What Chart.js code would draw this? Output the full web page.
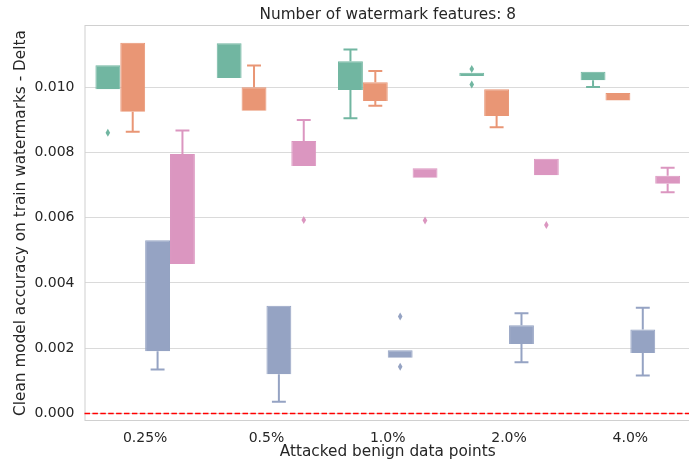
<!DOCTYPE html>
<html>
<head>
<meta charset="utf-8">
<script src="https://cdn.jsdelivr.net/npm/chart.js@4/dist/chart.umd.min.js"></script>
<style>
  html, body { margin: 0; padding: 0; background: #fff; overflow: hidden; }
  #wrap { width: 694px; height: 461px; }
</style>
</head>
<body>
<div id="wrap"><canvas id="boxChart" width="694" height="461"></canvas></div>
<script>
const categories = ["0.25%", "0.5%", "1.0%", "2.0%", "4.0%"];
const yTicks = [0, 0.002, 0.004, 0.006, 0.008, 0.010];
const chartTitle = "Number of watermark features: 8";

// boxes are [q1, q3], whiskers are [low, high]
const greenBox = [[0.00993, 0.01067], [0.01028, 0.01134], [0.00991, 0.01079], [0.01034, 0.01044], [0.01021, 0.01047]];
const greenWhisk = [[0.00993, 0.01067], [0.01028, 0.01134], [0.00904, 0.01115], [0.01034, 0.01044], [0.01000, 0.01047]];
const greenOut = [[0.0086], [], [], [0.01055, 0.01008], []];

const orangeBox = [[0.00924, 0.01136], [0.00927, 0.00999], [0.00957, 0.01015], [0.00911, 0.00993], [0.00959, 0.00982]];
const orangeWhisk = [[0.00863, 0.01136], [0.00927, 0.01066], [0.00943, 0.01049], [0.00877, 0.00993], [0.00959, 0.00982]];
const orangeOut = [[], [], [], [], []];

const blueBox = [[0.00191, 0.00531], [0.00120, 0.00330], [0.00171, 0.00194], [0.00213, 0.00270], [0.00185, 0.00257]];
const blueWhisk = [[0.00135, 0.00531], [0.00036, 0.00330], [0.00171, 0.00194], [0.00157, 0.00307], [0.00116, 0.00324]];
const blueOut = [[], [], [0.00297, 0.00143], [], []];

const pinkBox = [[0.00458, 0.00795], [0.00758, 0.00835], [0.00722, 0.00751], [0.00730, 0.00780], [0.00704, 0.00728]];
const pinkWhisk = [[0.00458, 0.00867], [0.00758, 0.00899], [0.00722, 0.00751], [0.00730, 0.00780], [0.00678, 0.00753]];
const pinkOut = [[], [0.00593], [0.00591], [0.00577], []];

const textColor = "#262626";
const gridColor = "#dadada";

function series(label, color, box, whisk, out) {
  return {
    label: label,
    data: box,
    whiskers: whisk,
    outliers: out,
    backgroundColor: color,
    borderColor: color,
    borderWidth: 1,
    categoryPercentage: 0.82,
    barPercentage: 1.0,
  };
}

// frame, whiskers, caps, outlier diamonds, zero line and the title over the plot area
const boxExtras = {
  id: "boxExtras",
  beforeDatasetsDraw(chart) {
    const { ctx, chartArea: a } = chart;
    ctx.save();
    ctx.strokeStyle = "#d0d0d0";
    ctx.lineWidth = 1;
    ctx.strokeRect(a.left + 0.5, a.top + 0.5, a.right - a.left - 1, a.bottom - a.top - 1);
    ctx.restore();
  },
  afterDatasetsDraw(chart) {
    const ctx = chart.ctx;
    const y = chart.scales.y;
    ctx.save();
    chart.data.datasets.forEach((ds, i) => {
      const meta = chart.getDatasetMeta(i);
      ctx.strokeStyle = ds.borderColor;
      ctx.fillStyle = ds.borderColor;
      ctx.lineWidth = 2;
      meta.data.forEach((bar, j) => {
        const [q1, q3] = ds.data[j];
        const [lo, hi] = ds.whiskers[j];
        const cx = bar.x;
        const half = bar.width * 0.28;
        [[q1, lo], [q3, hi]].forEach(([from, to]) => {
          if (to === from) return;
          ctx.beginPath();
          ctx.moveTo(cx, y.getPixelForValue(from));
          ctx.lineTo(cx, y.getPixelForValue(to));
          ctx.moveTo(cx - half, y.getPixelForValue(to));
          ctx.lineTo(cx + half, y.getPixelForValue(to));
          ctx.stroke();
        });
        ds.outliers[j].forEach(v => {
          const py = y.getPixelForValue(v);
          ctx.beginPath();
          ctx.moveTo(cx, py - 4);
          ctx.lineTo(cx + 2.3, py);
          ctx.lineTo(cx, py + 4);
          ctx.lineTo(cx - 2.3, py);
          ctx.closePath();
          ctx.fill();
        });
      });
    });
    // reference line at zero
    const a = chart.chartArea;
    const y0 = y.getPixelForValue(0);
    ctx.strokeStyle = "red";
    ctx.lineWidth = 1.5;
    ctx.setLineDash([5.5, 2.4]);
    ctx.beginPath();
    ctx.moveTo(a.left, y0);
    ctx.lineTo(a.right, y0);
    ctx.stroke();
    ctx.setLineDash([]);

    ctx.fillStyle = textColor;
    ctx.font = "15.3px 'DejaVu Sans'";
    ctx.textAlign = "center";
    ctx.textBaseline = "alphabetic";
    ctx.fillText(chartTitle, (a.left + a.right) / 2, 18.5);
    ctx.restore();
  }
};

new Chart(document.getElementById("boxChart"), {
  type: "bar",
  data: {
    labels: categories,
    datasets: [
      series("A", "#71b6a1", greenBox, greenWhisk, greenOut),
      series("B", "#e99675", orangeBox, orangeWhisk, orangeOut),
      series("C", "#95a3c3", blueBox, blueWhisk, blueOut),
      series("D", "#db96c0", pinkBox, pinkWhisk, pinkOut),
    ]
  },
  options: {
    responsive: false,
    animation: false,
    layout: { padding: { left: 0, right: 3, top: 25, bottom: 0 } },
    plugins: {
      legend: { display: false },
      tooltip: { enabled: false },
      title: { display: false }
    },
    scales: {
      x: {
        grid: { display: false, drawTicks: false },
        border: { display: false },
        ticks: { color: textColor, font: { family: "DejaVu Sans", size: 14 }, padding: 9 },
        title: {
          display: true,
          text: "Attacked benign data points",
          color: textColor,
          font: { family: "DejaVu Sans", size: 15.3 },
          padding: { top: 0, bottom: 0 }
        },
        afterFit(scale) { scale.height = 40; }
      },
      y: {
        min: -0.00023,
        max: 0.0119,
        grid: { color: gridColor, lineWidth: 1, drawTicks: false },
        border: { display: false },
        ticks: {
          color: textColor,
          font: { family: "DejaVu Sans", size: 14 },
          padding: 10,
          callback: v => v.toFixed(3)
        },
        afterBuildTicks(scale) {
          scale.ticks = yTicks.map(v => ({ value: v }));
        },
        title: {
          display: true,
          text: "Clean model accuracy on train watermarks - Delta",
          color: textColor,
          font: { family: "DejaVu Sans", size: 15.3 },
          padding: { top: 12, bottom: 0 }
        },
        afterFit(scale) { scale.width = 84.5; }
      }
    }
  },
  plugins: [boxExtras]
});
</script>
</body>
</html>
